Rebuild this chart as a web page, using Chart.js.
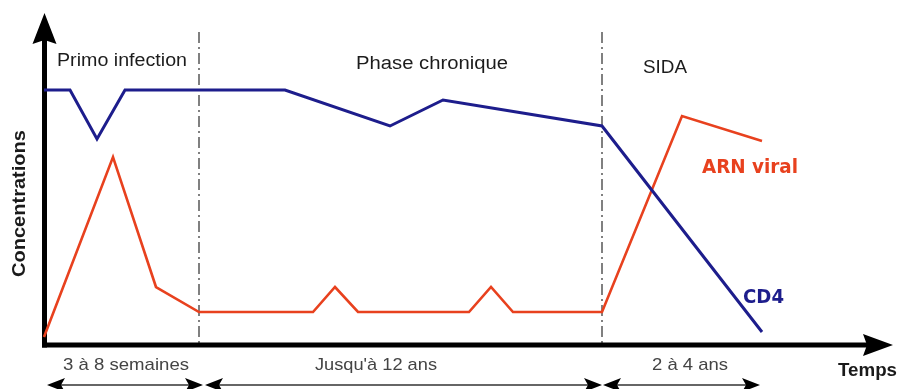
<!DOCTYPE html>
<html>
<head>
<meta charset="utf-8">
<script src="https://cdn.jsdelivr.net/npm/chart.js@4"></script>
<style>
   body { margin: 0; background: #fff; }
   .wrapper { width: 900px; height: 389px; position: relative; }
</style>
</head>
<body>
<div class="wrapper"><canvas id="myChart"></canvas></div>
<script>
// temps (axe x) et niveau (axe y), unités arbitraires
const cd4_time = [0, 26, 53, 81, 241, 346, 399, 558, 718];
const cd4_level = [255, 255, 206, 255, 255, 219, 245, 219, 13];
const arn_time = [0, 69, 112, 155, 269, 291, 314, 425, 447, 469, 558, 638, 718];
const arn_level = [8, 188, 58, 33, 33, 58, 33, 33, 58, 33, 33, 229, 204];
const phase_limits = [155, 558];
const phase_names = ['Primo infection', 'Phase chronique', 'SIDA'];
const period_start = [3, 161, 559];
const period_end = [159, 558, 716];
const period_names = ['3 à 8 semaines', "Jusqu'à 12 ans", '2 à 4 ans'];
const series_names = ['CD4', 'ARN viral'];
const axis_names = ['Concentrations', 'Temps'];

// placement des textes (x, y en unités du graphique, w = largeur en px)
const phase_text = [{ x: 13, y: 279, w: 130 }, { x: 312, y: 276, w: 152 }, { x: 599, y: 272, w: 44 }];
const period_text = [{ x: 19, w: 126 }, { x: 271, w: 122 }, { x: 608, w: 76 }];
const series_text = [{ x: 699, y: 42, w: 41 }, { x: 658, y: 172, w: 96 }];

const BLUE = '#1d1d8c', RED = '#e8411e';

const fitText = function (ctx, txt, x, y, font, color, w, rot) {
   ctx.save();
   ctx.font = font;
   ctx.fillStyle = color;
   ctx.textBaseline = 'alphabetic';
   ctx.textAlign = 'left';
   const m = ctx.measureText(txt).width;
   ctx.translate(x, y);
   if (rot) ctx.rotate(rot);
   ctx.scale(w / m, 1);
   ctx.fillText(txt, 0, 0);
   ctx.restore();
};

// pointe de flèche : tip = pointe, (dx, dy) = direction vers l'arrière
const arrowHead = function (ctx, tx, ty, dx, dy, len, half, notch) {
   const bx = tx + dx * len, by = ty + dy * len;
   const nx = tx + dx * (len - notch), ny = ty + dy * (len - notch);
   ctx.beginPath();
   ctx.moveTo(tx, ty);
   ctx.lineTo(bx - dy * half, by + dx * half);
   ctx.lineTo(nx, ny);
   ctx.lineTo(bx + dy * half, by - dx * half);
   ctx.closePath();
   ctx.fill();
};

const drawing = {
   id: 'drawing',
   beforeDatasetsDraw(chart) {
      const ctx = chart.ctx, sx = chart.scales.x, sy = chart.scales.y, area = chart.chartArea;
      const x0 = Math.round(sx.getPixelForValue(0)) + 0.5, y0 = Math.round(sy.getPixelForValue(0));
      ctx.save();
      // séparations des phases
      ctx.strokeStyle = '#808080';
      ctx.lineWidth = 2;
      ctx.setLineDash([11, 4, 2, 4]);
      phase_limits.forEach(v => {
         const px = Math.round(sx.getPixelForValue(v));
         ctx.beginPath();
         ctx.moveTo(px, sy.getPixelForValue(313));
         ctx.lineTo(px, y0);
         ctx.stroke();
      });
      ctx.setLineDash([]);
      // axes
      ctx.strokeStyle = '#000';
      ctx.fillStyle = '#000';
      ctx.lineWidth = 5;
      ctx.beginPath();
      ctx.moveTo(x0, y0 + 2.5);
      ctx.lineTo(x0, area.top + 26);
      ctx.stroke();
      ctx.beginPath();
      ctx.moveTo(x0 - 2.5, y0);
      ctx.lineTo(area.right - 26, y0);
      ctx.stroke();
      arrowHead(ctx, x0, area.top, 0, 1, 31, 12, 4);
      arrowHead(ctx, area.right - 1, y0, -1, 0, 30, 11, 4);
      // flèches des durées
      const ya = sy.getPixelForValue(-40);
      period_start.forEach((s, i) => {
         const a = sx.getPixelForValue(s), b = sx.getPixelForValue(period_end[i]);
         ctx.strokeStyle = '#666';
         ctx.lineWidth = 2;
         ctx.beginPath();
         ctx.moveTo(a + 8, ya);
         ctx.lineTo(b - 8, ya);
         ctx.stroke();
         ctx.fillStyle = '#000';
         arrowHead(ctx, a, ya, 1, 0, 18, 7, 4);
         arrowHead(ctx, b, ya, -1, 0, 18, 7, 4);
      });
      ctx.restore();
   },
   afterDraw(chart) {
      const ctx = chart.ctx, sx = chart.scales.x, sy = chart.scales.y;
      phase_names.forEach((t, i) => {
         const p = phase_text[i];
         fitText(ctx, t, sx.getPixelForValue(p.x), sy.getPixelForValue(p.y), '18px "Liberation Sans", Arial, sans-serif', '#1c1c1c', p.w);
      });
      period_names.forEach((t, i) => {
         const p = period_text[i];
         fitText(ctx, t, sx.getPixelForValue(p.x), sy.getPixelForValue(-25), '17px "Liberation Sans", Arial, sans-serif', '#444', p.w);
      });
      const colors = [BLUE, RED];
      series_names.forEach((t, i) => {
         const p = series_text[i];
         fitText(ctx, t, sx.getPixelForValue(p.x), sy.getPixelForValue(p.y), 'bold 19px "DejaVu Sans", Verdana, sans-serif', colors[i], p.w);
      });
      fitText(ctx, axis_names[0], 25, sy.getPixelForValue(68), 'bold 18px "Liberation Sans", Arial, sans-serif', '#1a1a1a', 147, -Math.PI / 2);
      fitText(ctx, axis_names[1], sx.getPixelForValue(794), sy.getPixelForValue(-31), 'bold 18px "Liberation Sans", Arial, sans-serif', '#1a1a1a', 59);
   }
};

new Chart(document.getElementById('myChart'), {
   type: 'line',
   data: {
      datasets: [{
         label: series_names[0],
         data: cd4_time.map((t, i) => ({ x: t, y: cd4_level[i] })),
         borderColor: BLUE,
         borderWidth: 3,
         pointRadius: 0,
         tension: 0,
         clip: false,
      }, {
         label: series_names[1],
         data: arn_time.map((t, i) => ({ x: t, y: arn_level[i] })),
         borderColor: RED,
         borderWidth: 2.6,
         pointRadius: 0,
         tension: 0,
         clip: false,
      }]
   },
   options: {
      responsive: true,
      maintainAspectRatio: false,
      animation: false,
      events: [],
      layout: { padding: { left: 44, right: 6, top: 13, bottom: 44 } },
      scales: {
         x: { type: 'linear', min: 0, max: 850, display: false },
         y: { type: 'linear', min: 0, max: 332, display: false }
      },
      plugins: {
         legend: { display: false },
         tooltip: { enabled: false }
      }
   },
   plugins: [drawing]
});
</script>
</body>
</html>
